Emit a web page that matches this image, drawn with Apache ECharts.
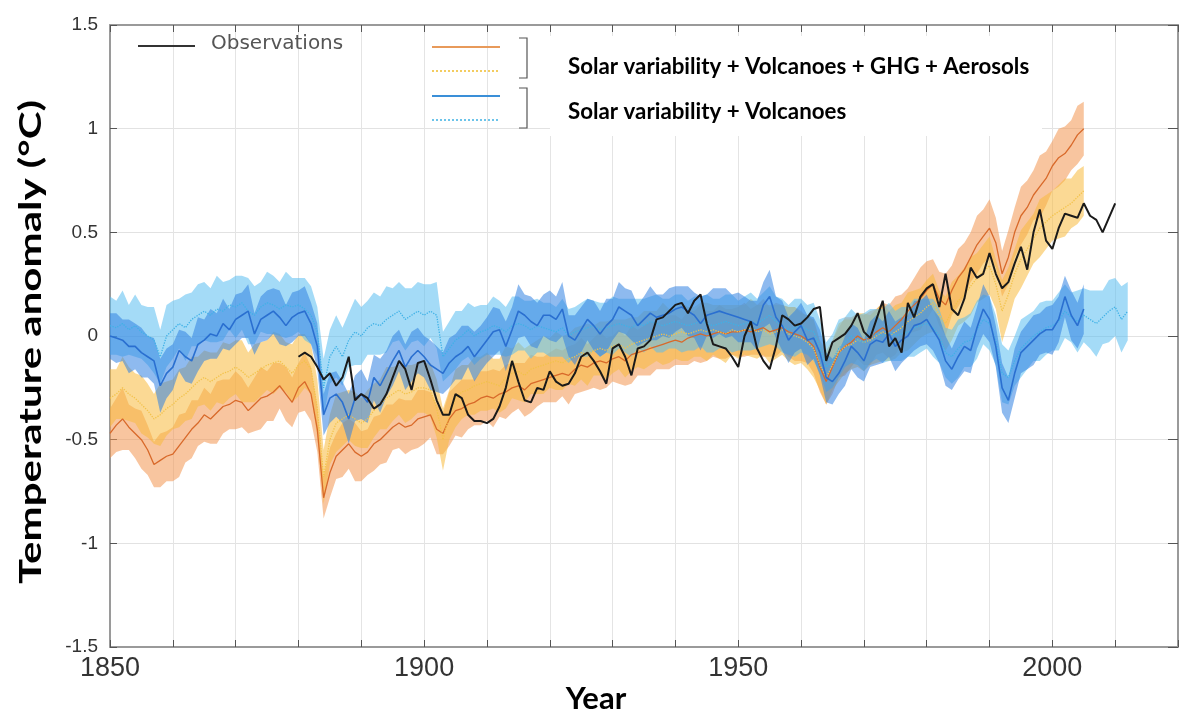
<!DOCTYPE html>
<html>
<head>
<meta charset="utf-8">
<script src="https://cdn.jsdelivr.net/npm/echarts@6/dist/echarts.min.js"></script>
<style>
html,body{margin:0;padding:0;background:#fff;}
#chart{width:1181px;height:718px;}
</style>
</head>
<body>
<div id="chart"></div>
<script>
// ---------- DATA ----------
const START_YEAR = 1850;
const OBS_START = 1880;
const xTickLabels = ['1850', '1900', '1950', '2000'];
const yTickLabels = ['-1.5', '-1', '-0.5', '0', '0.5', '1', '1.5'];

// Solar variability + Volcanoes + GHG + Aerosols, model A (orange solid), 1850-2005
const allForcingA = [
 -0.47,-0.43,-0.40,-0.44,-0.47,-0.50,-0.55,-0.62,-0.60,-0.58,
 -0.57,-0.53,-0.49,-0.45,-0.42,-0.38,-0.40,-0.37,-0.34,-0.33,
 -0.31,-0.32,-0.36,-0.33,-0.30,-0.29,-0.27,-0.24,-0.28,-0.32,
 -0.25,-0.22,-0.28,-0.45,-0.78,-0.66,-0.58,-0.55,-0.52,-0.56,
 -0.58,-0.56,-0.52,-0.50,-0.47,-0.44,-0.42,-0.44,-0.43,-0.40,
 -0.39,-0.38,-0.45,-0.47,-0.40,-0.36,-0.35,-0.33,-0.32,-0.30,
 -0.29,-0.30,-0.28,-0.27,-0.25,-0.24,-0.26,-0.23,-0.22,-0.21,
 -0.20,-0.19,-0.18,-0.19,-0.16,-0.14,-0.15,-0.13,-0.12,-0.13,
 -0.11,-0.10,-0.12,-0.09,-0.08,-0.07,-0.06,-0.05,-0.04,-0.03,
 -0.02,-0.03,-0.01,0.00,0.01,0.00,0.01,0.02,0.01,0.02,
 0.02,0.03,0.02,0.03,0.04,0.02,0.03,0.04,0.02,0.01,
 0.00,-0.02,-0.05,-0.15,-0.22,-0.15,-0.08,-0.05,-0.03,0.00,
 -0.02,-0.01,0.02,0.04,0.02,0.05,0.08,0.12,0.15,0.18,
 0.22,0.25,0.18,0.15,0.22,0.28,0.32,0.38,0.44,0.48,
 0.52,0.45,0.30,0.38,0.50,0.58,0.62,0.68,0.72,0.76,
 0.82,0.86,0.88,0.92,0.97,1.00
];
const allForcingASpread = [
 .12,.13,.15,.11,.12,.14,.12,.11,.13,.12,
 .13,.15,.12,.14,.11,.13,.12,.15,.13,.12,
 .14,.12,.11,.13,.15,.12,.14,.11,.13,.12,
 .12,.14,.13,.11,.10,.12,.11,.13,.12,.14,
 .12,.11,.13,.12,.14,.11,.12,.13,.12,.14,
 .13,.11,.12,.10,.13,.12,.14,.12,.11,.13,
 .12,.14,.11,.13,.12,.11,.13,.14,.12,.11,
 .12,.13,.11,.14,.12,.13,.11,.12,.14,.12,
 .11,.13,.12,.14,.11,.12,.13,.11,.12,.13,
 .12,.11,.13,.12,.14,.12,.11,.13,.12,.11,
 .12,.13,.11,.12,.14,.12,.13,.11,.12,.13,
 .12,.11,.13,.12,.11,.13,.12,.14,.12,.11,
 .12,.13,.11,.12,.13,.14,.12,.11,.13,.15,
 .14,.12,.13,.15,.12,.14,.13,.12,.14,.13,
 .14,.12,.11,.13,.12,.14,.13,.12,.15,.13,
 .12,.14,.13,.12,.14,.13
];

// Solar variability + Volcanoes + GHG + Aerosols, model B (yellow dotted), 1850-2005
const allForcingB = [
 -0.30,-0.28,-0.25,-0.28,-0.30,-0.33,-0.36,-0.40,-0.38,-0.35,
 -0.33,-0.30,-0.28,-0.25,-0.22,-0.20,-0.22,-0.20,-0.18,-0.17,
 -0.15,-0.17,-0.20,-0.18,-0.16,-0.14,-0.13,-0.12,-0.15,-0.18,
 -0.14,-0.12,-0.16,-0.35,-0.68,-0.50,-0.42,-0.40,-0.38,-0.40,
 -0.42,-0.40,-0.36,-0.33,-0.30,-0.28,-0.26,-0.28,-0.27,-0.25,
 -0.25,-0.26,-0.35,-0.50,-0.38,-0.30,-0.27,-0.26,-0.24,-0.23,
 -0.22,-0.23,-0.24,-0.20,-0.18,-0.17,-0.19,-0.16,-0.15,-0.14,
 -0.13,-0.12,-0.13,-0.11,-0.10,-0.08,-0.09,-0.07,-0.06,-0.07,
 -0.05,-0.04,-0.06,-0.04,-0.03,-0.02,-0.01,0.00,0.01,0.00,
 0.01,0.02,0.01,0.02,0.03,0.02,0.03,0.02,0.01,0.03,
 0.02,0.03,0.04,0.02,0.03,0.01,0.02,0.03,0.01,0.00,
 -0.01,-0.03,-0.06,-0.14,-0.20,-0.14,-0.08,-0.05,-0.04,-0.02,
 -0.03,-0.02,0.00,0.02,0.00,0.02,0.04,0.07,0.09,0.11,
 0.14,0.16,0.10,0.06,0.12,0.17,0.20,0.24,0.28,0.31,
 0.34,0.25,0.12,0.20,0.30,0.37,0.42,0.47,0.52,0.55,
 0.58,0.60,0.62,0.64,0.67,0.70
];
const allForcingBSpread = [
 .14,.12,.15,.13,.12,.14,.13,.12,.15,.13,
 .12,.14,.13,.15,.12,.13,.14,.12,.15,.13,
 .13,.15,.12,.14,.13,.12,.15,.13,.12,.14,
 .15,.13,.12,.14,.13,.12,.14,.13,.12,.13,
 .12,.14,.13,.12,.15,.13,.12,.14,.13,.12,
 .12,.13,.14,.15,.12,.14,.13,.12,.14,.13,
 .14,.12,.13,.15,.12,.14,.13,.12,.13,.14,
 .12,.14,.13,.12,.14,.13,.15,.12,.13,.14,
 .13,.12,.14,.13,.12,.14,.13,.12,.15,.13,
 .12,.14,.13,.12,.13,.14,.12,.13,.14,.12,
 .13,.12,.14,.13,.12,.14,.13,.12,.13,.14,
 .12,.13,.14,.12,.13,.12,.14,.13,.12,.13,
 .14,.12,.13,.14,.12,.13,.12,.14,.13,.12,
 .13,.14,.12,.13,.14,.12,.13,.14,.12,.13,
 .14,.12,.15,.13,.12,.14,.13,.12,.14,.13,
 .12,.13,.14,.12,.13,.12
];

// Solar variability + Volcanoes, model A (blue solid), 1850-2005
const naturalA = [
 0.00,-0.01,-0.02,-0.05,-0.05,-0.08,-0.10,-0.12,-0.24,-0.18,
 -0.15,-0.07,-0.10,-0.12,-0.04,-0.02,0.01,0.00,0.06,0.03,
 0.08,0.10,0.12,0.01,0.08,0.10,0.12,0.09,0.05,0.09,
 0.11,0.12,0.06,-0.05,-0.38,-0.30,-0.28,-0.32,-0.40,-0.30,
 -0.28,-0.32,-0.20,-0.24,-0.18,-0.12,-0.07,-0.15,-0.10,-0.07,
 -0.10,-0.14,-0.16,-0.18,-0.13,-0.10,-0.08,-0.05,-0.10,-0.06,
 -0.02,0.02,0.03,-0.05,0.03,0.12,0.10,0.07,0.05,0.10,
 0.10,0.08,0.13,0.00,-0.02,0.03,0.08,0.05,0.01,0.05,
 0.08,0.14,0.12,0.10,0.05,0.08,0.11,0.09,0.10,0.11,
 0.13,0.14,0.12,0.10,0.06,0.10,0.11,0.12,0.11,0.10,
 0.09,0.08,0.07,0.05,0.15,0.19,0.09,0.05,-0.02,0.02,
 0.05,-0.02,-0.01,-0.08,-0.20,-0.22,-0.18,-0.12,-0.05,-0.08,
 -0.12,-0.04,-0.02,-0.03,0.01,-0.05,-0.02,0.00,0.05,0.06,
 0.08,0.03,-0.02,-0.12,-0.16,-0.10,-0.05,-0.07,0.04,0.13,
 0.08,-0.05,-0.25,-0.31,-0.18,-0.08,-0.05,-0.02,0.01,0.03,
 0.03,0.08,0.19,0.10,0.05,0.13
];
const naturalASpread = [
 .11,.12,.10,.13,.11,.12,.10,.11,.13,.12,
 .11,.10,.12,.11,.13,.10,.12,.11,.12,.10,
 .12,.11,.13,.10,.11,.12,.11,.13,.10,.12,
 .11,.12,.10,.11,.10,.12,.11,.10,.12,.11,
 .12,.10,.11,.13,.11,.12,.10,.11,.12,.11,
 .10,.12,.11,.10,.12,.11,.13,.10,.12,.11,
 .11,.12,.10,.12,.11,.13,.10,.12,.11,.10,
 .12,.11,.13,.10,.12,.11,.10,.12,.11,.13,
 .10,.12,.11,.12,.10,.11,.13,.11,.10,.12,
 .11,.10,.12,.11,.13,.10,.12,.11,.12,.10,
 .12,.11,.10,.12,.11,.13,.10,.12,.11,.10,
 .11,.12,.10,.11,.12,.11,.10,.12,.11,.12,
 .10,.11,.12,.10,.11,.12,.11,.10,.12,.11,
 .12,.10,.11,.12,.10,.11,.12,.11,.10,.12,
 .11,.10,.12,.11,.12,.10,.11,.12,.10,.11,
 .12,.11,.10,.12,.11,.12
];

// Solar variability + Volcanoes, model B (light blue dotted), 1850-2012
const naturalB = [
 0.05,0.04,0.06,0.03,0.05,0.02,0.00,-0.02,-0.10,0.00,
 0.03,0.06,0.04,0.08,0.10,0.12,0.10,0.13,0.12,0.15,
 0.14,0.16,0.12,0.10,0.14,0.16,0.15,0.13,0.15,0.14,
 0.15,0.13,0.10,0.02,-0.25,-0.10,-0.05,-0.10,-0.02,0.02,
 0.00,0.04,0.06,0.05,0.08,0.10,0.12,0.08,0.10,0.12,
 0.10,0.12,0.10,-0.10,-0.06,-0.02,0.00,0.03,0.00,0.02,
 0.03,0.05,0.04,0.02,0.05,0.06,0.05,0.03,0.05,0.04,
 0.03,0.02,0.04,0.00,0.02,0.03,0.04,0.05,0.03,0.04,
 0.05,0.06,0.05,0.04,0.06,0.05,0.07,0.06,0.05,0.06,
 0.07,0.06,0.05,0.06,0.07,0.06,0.05,0.06,0.07,0.06,
 0.05,0.06,0.07,0.06,0.08,0.10,0.07,0.05,0.03,0.04,
 0.05,0.03,0.02,-0.05,-0.15,-0.12,-0.06,-0.03,0.00,-0.02,
 -0.03,0.00,0.01,0.00,0.02,0.00,0.01,0.02,0.04,0.05,
 0.06,0.04,0.00,-0.08,-0.10,-0.06,-0.03,-0.02,0.03,0.08,
 0.06,-0.02,-0.18,-0.20,-0.12,-0.06,-0.03,0.00,0.02,0.04,
 0.05,0.07,0.12,0.09,0.07,0.10,0.08,0.06,0.09,0.12,
 0.14,0.08,0.12
];
const naturalBSpread = [
 .14,.13,.16,.12,.15,.13,.14,.16,.13,.15,
 .14,.12,.16,.13,.15,.14,.13,.16,.14,.12,
 .15,.13,.16,.14,.12,.15,.14,.13,.16,.14,
 .13,.15,.14,.12,.14,.13,.15,.14,.13,.16,
 .14,.13,.15,.14,.16,.13,.14,.15,.13,.14,
 .15,.13,.16,.12,.13,.14,.12,.13,.14,.13,
 .12,.14,.13,.12,.14,.13,.12,.14,.13,.12,
 .13,.12,.14,.13,.12,.13,.14,.12,.13,.12,
 .14,.12,.13,.14,.12,.13,.12,.14,.13,.12,
 .13,.14,.12,.13,.12,.14,.13,.12,.13,.14,
 .12,.13,.14,.12,.13,.14,.12,.13,.12,.14,
 .13,.12,.14,.13,.12,.13,.14,.12,.13,.12,
 .14,.13,.12,.13,.14,.12,.13,.12,.14,.13,
 .12,.14,.13,.12,.13,.14,.12,.13,.14,.12,
 .13,.12,.14,.13,.12,.14,.13,.12,.14,.13,
 .12,.14,.13,.12,.15,.13,.14,.16,.13,.15,
 .14,.16,.14
];

// Observations (black), 1880-2010
const observations = [
 -0.10,-0.08,-0.10,-0.15,-0.21,-0.18,-0.24,-0.20,-0.10,-0.31,
 -0.28,-0.30,-0.35,-0.33,-0.28,-0.20,-0.12,-0.16,-0.26,-0.13,
 -0.12,-0.21,-0.31,-0.38,-0.38,-0.28,-0.30,-0.38,-0.41,-0.41,
 -0.42,-0.40,-0.34,-0.25,-0.12,-0.22,-0.31,-0.32,-0.25,-0.26,
 -0.17,-0.22,-0.24,-0.23,-0.18,-0.10,-0.08,-0.12,-0.17,-0.23,
 -0.06,-0.04,-0.10,-0.19,-0.06,-0.05,-0.02,0.08,0.09,0.12,
 0.15,0.16,0.11,0.17,0.20,0.06,-0.04,-0.05,-0.06,-0.10,
 -0.15,0.00,0.07,-0.06,-0.12,-0.16,-0.05,0.10,0.08,0.05,
 0.06,0.09,0.13,0.14,-0.12,-0.03,-0.01,0.01,0.05,0.11,
 0.02,-0.01,0.08,0.17,-0.05,-0.01,-0.08,0.16,0.09,0.19,
 0.23,0.25,0.14,0.30,0.13,0.10,0.18,0.33,0.28,0.30,
 0.40,0.30,0.23,0.26,0.35,0.43,0.32,0.50,0.61,0.46,
 0.42,0.52,0.59,0.58,0.57,0.64,0.58,0.56,0.50,0.57,
 0.64
];

// ---------- CHART ----------
const chart = echarts.init(document.getElementById('chart'), null, {renderer: 'canvas'});

function pairs(start, arr) { return arr.map((v, i) => [start + i, v]); }

function bandSeries(name, start, mean, spread, color, z) {
  return {
    type: 'custom',
    name: name,
    z: z,
    silent: true,
    data: [[start, mean[0]]],
    renderItem: function (params, api) {
      const up = [], lo = [];
      for (let i = 0; i < mean.length; i++) {
        up.push(api.coord([start + i, mean[i] + spread[i]]));
        lo.push(api.coord([start + i, mean[i] - spread[i]]));
      }
      return {
        type: 'polygon',
        shape: {points: up.concat(lo.reverse())},
        style: {fill: color}
      };
    }
  };
}

function lineSeries(name, start, arr, color, width, type, z) {
  return {
    type: 'line', name: name, z: z,
    data: pairs(start, arr),
    showSymbol: false, symbol: 'none',
    lineStyle: {color: color, width: width, type: type},
    silent: true
  };
}

const labelFont = 'Liberation Sans';
const boldFont = 'Lato';
const axisLineStyle = {color: '#9a9a9a', width: 2};
const tickStyle = {color: '#555', width: 1};

const option = {
  backgroundColor: '#ffffff',
  animation: false,
  grid: {left: 110, top: 25, width: 1068, height: 622, containLabel: false},
  xAxis: [{
    type: 'value', min: 1850, max: 2020, interval: 10,
    axisLine: {show: true, onZero: false, lineStyle: axisLineStyle},
    axisTick: {show: true, inside: true, length: 7, lineStyle: tickStyle},
    axisLabel: {
      fontFamily: labelFont, fontSize: 27, color: '#333', margin: 8,
      formatter: v => xTickLabels.indexOf(String(v)) >= 0 ? String(v) : ''
    },
    splitLine: {show: true, lineStyle: {color: '#e4e4e4', width: 1}}
  }, {
    type: 'value', min: 1850, max: 2020, interval: 10, position: 'top',
    axisLine: {show: true, onZero: false, lineStyle: axisLineStyle},
    axisTick: {show: true, inside: true, length: 7, lineStyle: tickStyle},
    axisLabel: {show: false}, splitLine: {show: false}
  }],
  yAxis: [{
    type: 'value', min: -1.5, max: 1.5, interval: 0.5,
    axisLine: {show: true, onZero: false, lineStyle: axisLineStyle},
    axisTick: {show: true, inside: true, length: 7, lineStyle: tickStyle},
    axisLabel: {
      fontFamily: labelFont, fontSize: 19, color: '#333', margin: 12,
      formatter: v => { const s = String(v); return yTickLabels.indexOf(s) >= 0 ? s : ''; }
    },
    splitLine: {show: true, lineStyle: {color: '#e2e2e2', width: 1}}
  }, {
    type: 'value', min: -1.5, max: 1.5, interval: 0.5, position: 'right',
    axisLine: {show: true, onZero: false, lineStyle: axisLineStyle},
    axisTick: {show: true, inside: true, length: 10, lineStyle: tickStyle},
    axisLabel: {show: false}, splitLine: {show: false}
  }],
  series: [
    bandSeries('allA band', START_YEAR, allForcingA, allForcingASpread, 'rgba(242,150,80,0.55)', 1),
    bandSeries('allB band', START_YEAR, allForcingB, allForcingBSpread, 'rgba(247,185,60,0.55)', 2),
    bandSeries('natB band', START_YEAR, naturalB, naturalBSpread, 'rgba(90,190,240,0.55)', 3),
    bandSeries('natA band', START_YEAR, naturalA, naturalASpread, 'rgba(50,130,225,0.55)', 4),
    lineSeries('Solar + Volcanoes + GHG + Aerosols A', START_YEAR, allForcingA, '#d8692a', 1.3, 'solid', 10),
    lineSeries('Solar + Volcanoes + GHG + Aerosols B', START_YEAR, allForcingB, '#f2c24a', 1.3, 'dotted', 10),
    lineSeries('Solar + Volcanoes B', START_YEAR, naturalB, '#3fb1e6', 1.3, 'dotted', 10),
    lineSeries('Solar + Volcanoes A', START_YEAR, naturalA, '#2a6fd0', 1.6, 'solid', 11),
    lineSeries('Observations', OBS_START, observations, '#1a1a1a', 2, 'solid', 12)
  ],
  graphic: [
    {type: 'line', z: 60, shape: {x1: 138, y1: 46, x2: 195, y2: 46}, style: {stroke: '#333', lineWidth: 2}},
    {type: 'text', z: 60, left: 211, top: 34, style: {text: 'Observations', fontFamily: 'DejaVu Sans', fontSize: 20, fill: '#555'}},
    {type: 'line', z: 60, shape: {x1: 432, y1: 47, x2: 500, y2: 47}, style: {stroke: '#e89a5a', lineWidth: 2}},
    {type: 'line', z: 60, shape: {x1: 432, y1: 71, x2: 500, y2: 71}, style: {stroke: '#f3cc60', lineWidth: 2, lineDash: [2, 2]}},
    {type: 'line', z: 60, shape: {x1: 432, y1: 96, x2: 500, y2: 96}, style: {stroke: '#3a8fd8', lineWidth: 2}},
    {type: 'line', z: 60, shape: {x1: 432, y1: 120, x2: 500, y2: 120}, style: {stroke: '#6cc4ea', lineWidth: 2, lineDash: [2, 2]}},
    {type: 'polyline', z: 60, shape: {points: [[519, 38], [527, 38], [527, 78], [519, 78]]}, style: {stroke: '#555', lineWidth: 1.2, fill: null}},
    {type: 'polyline', z: 60, shape: {points: [[519, 88], [527, 88], [527, 128], [519, 128]]}, style: {stroke: '#555', lineWidth: 1.2, fill: null}},
    {type: 'rect', z: 59, shape: {x: 550, y: 36, width: 492, height: 100}, style: {fill: '#ffffff'}},
    {type: 'text', z: 60, left: 568, top: 56, style: {text: 'Solar variability + Volcanoes + GHG + Aerosols', fontFamily: boldFont, fontWeight: 'bold', fontSize: 22.3, fill: '#000'}},
    {type: 'text', z: 60, left: 568, top: 101, style: {text: 'Solar variability + Volcanoes', fontFamily: boldFont, fontWeight: 'bold', fontSize: 22.3, fill: '#000'}},
    {type: 'text', z: 60, x: 31, y: 342, rotation: Math.PI / 2, scaleX: 1.4,
      style: {text: 'Temperature anomaly (°C)', fontFamily: boldFont, fontWeight: 'bold', fontSize: 30, fill: '#000', textAlign: 'center', textVerticalAlign: 'middle'}},
    {type: 'text', z: 60, x: 596, y: 699,
      style: {text: 'Year', fontFamily: boldFont, fontWeight: 'bold', fontSize: 31, fill: '#000', textAlign: 'center', textVerticalAlign: 'middle'}}
  ]
};
chart.setOption(option);
</script>
</body>
</html>
